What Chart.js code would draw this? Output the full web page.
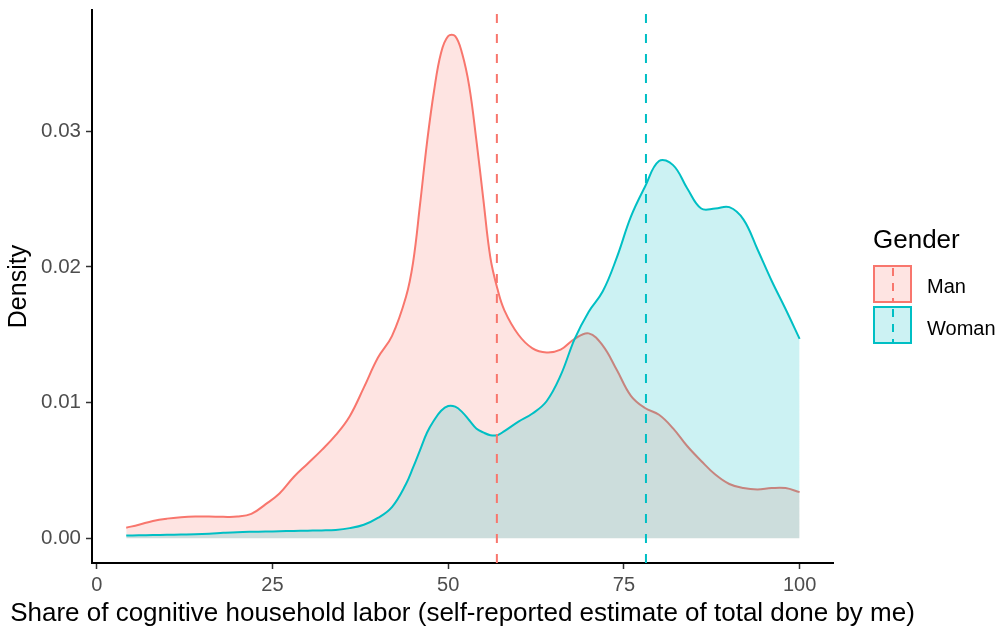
<!DOCTYPE html>
<html>
<head>
<meta charset="utf-8">
<script src="https://cdn.jsdelivr.net/npm/chart.js@4.4.1/dist/chart.umd.min.js"></script>
<style>
html,body{margin:0;padding:0;background:#fff;}
#wrap{position:relative;width:1003px;height:630px;overflow:hidden;}
canvas{display:block;}
.lg{position:absolute;font-family:"Liberation Sans",Arial,Helvetica,sans-serif;color:#000;white-space:nowrap;line-height:1;}
.key{position:absolute;left:873px;width:39px;height:38px;box-sizing:border-box;border:2px solid;}
.key .dash{position:absolute;left:50%;margin-left:-1px;top:-2px;bottom:-2px;width:2px;}
#xtitle{position:absolute;left:462.5px;top:599px;transform:translateX(-50%);font-size:26px;}
</style>
</head>
<body>
<div id="wrap">
<canvas id="c" width="1003" height="630"></canvas>
<div class="lg" id="xtitle">Share of cognitive household labor (self-reported estimate of total done by me)</div>
<div class="lg" style="left:873px;top:226px;font-size:26px;">Gender</div>
<div class="key" id="keyMan"><div class="dash"></div></div>
<div class="key" id="keyWoman"><div class="dash"></div></div>
<div class="lg" style="left:927px;top:276px;font-size:20px;">Man</div>
<div class="lg" style="left:927px;top:318px;font-size:20px;">Woman</div>
</div>
<script>
// ---- data ----
const xValues = [4.2, 6, 8, 10, 12, 14, 16, 18, 20, 22, 24, 26, 28, 30, 32, 34, 36, 38, 40, 42,
  44, 45, 46, 47, 48, 49, 50, 51, 52, 53, 54, 55, 56, 57, 58,
  60, 62, 64, 66, 68, 70, 72, 74, 76, 78, 80, 82, 84, 86, 88, 90, 92, 94, 96, 98, 100];
const manDensity = [0.00078, 0.00100, 0.00128, 0.00145, 0.00155, 0.00160, 0.00160, 0.00158, 0.00160, 0.00180,
  0.00250, 0.00330, 0.00450, 0.00550, 0.00650, 0.00760, 0.00900, 0.01110, 0.01330, 0.01490,
  0.01780, 0.02030, 0.02460, 0.02920, 0.03300, 0.03580, 0.03700, 0.03700, 0.03570, 0.03330, 0.02940, 0.02500, 0.02070, 0.01840, 0.01680,
  0.01500, 0.01400, 0.01370, 0.01390, 0.01470, 0.01510, 0.01420, 0.01240, 0.01050, 0.00960, 0.00910,
  0.00810, 0.00680, 0.00570, 0.00470, 0.00400, 0.00370, 0.00360, 0.00370, 0.00370, 0.00340];
const womanDensity = [0.00020, 0.00022, 0.00024, 0.00026, 0.00028, 0.00030, 0.00034, 0.00040, 0.00045, 0.00048,
  0.00050, 0.00052, 0.00054, 0.00056, 0.00058, 0.00062, 0.00075, 0.00100, 0.00150, 0.00230,
  0.00400, 0.00520, 0.00650, 0.00780, 0.00870, 0.00940, 0.00975, 0.00970, 0.00930, 0.00870, 0.00810, 0.00780, 0.00760, 0.00760, 0.00790,
  0.00860, 0.00920, 0.01010, 0.01200, 0.01470, 0.01670, 0.01820, 0.02070, 0.02370, 0.02590, 0.02780,
  0.02750, 0.02580, 0.02430, 0.02430, 0.02440, 0.02350, 0.02130, 0.01900, 0.01690, 0.01470];
const groups = ["Man", "Woman"];
const groupMeans = [56.93, 78.14];
const xTicks = [0, 25, 50, 75, 100];
const yTicks = [0, 0.01, 0.02, 0.03];

const lineColors = ["rgb(248,118,109)", "rgb(0,191,196)"];
const fillColors = ["rgba(248,118,109,0.2)", "rgba(0,191,196,0.2)"];

// legend keys
["keyMan", "keyWoman"].forEach((id, i) => {
  const k = document.getElementById(id);
  k.style.top = (i === 0 ? 265 : 306) + "px";
  k.style.borderColor = lineColors[i];
  k.style.background = fillColors[i];
  k.firstChild.style.background =
    "repeating-linear-gradient(to bottom, transparent 0 3px, " + lineColors[i] + " 3px 11px, transparent 11px 15px)";
});

Chart.defaults.font.family = '"Liberation Sans", Arial, Helvetica, sans-serif';

const meanLines = {
  id: "meanLines",
  afterDatasetsDraw(chart) {
    const ctx = chart.ctx, xs = chart.scales.x, a = chart.chartArea;
    ctx.save();
    ctx.lineWidth = 2;
    ctx.setLineDash([9, 11]);
    groupMeans.forEach((m, i) => {
      const px = xs.getPixelForValue(m);
      ctx.strokeStyle = lineColors[i];
      ctx.beginPath();
      ctx.moveTo(px, a.bottom);
      ctx.lineTo(px, a.top);
      ctx.stroke();
    });
    ctx.restore();
  }
};

const mk = (vals) => xValues.map((x, i) => ({ x: x, y: vals[i] }));
const series = [manDensity, womanDensity];

new Chart(document.getElementById("c"), {
  type: "line",
  data: {
    datasets: groups.map((g, i) => ({
      label: g,
      data: mk(series[i]),
      borderColor: lineColors[i],
      backgroundColor: fillColors[i],
      borderWidth: 2,
      fill: "origin",
      pointRadius: 0,
      tension: 0.4,
      order: 1 - i
    }))
  },
  options: {
    responsive: false,
    animation: false,
    devicePixelRatio: 1,
    layout: { padding: { top: 10, right: 170, bottom: 0, left: 0 } },
    plugins: { legend: { display: false }, tooltip: { enabled: false } },
    scales: {
      x: {
        type: "linear",
        min: -0.67,
        max: 104.75,
        afterBuildTicks: (s) => { s.ticks = xTicks.map(v => ({ value: v })); },
        afterFit: (s) => { s.height = 67; s.paddingLeft = 0; s.paddingRight = 0; },
        ticks: { color: "#4D4D4D", font: { size: 20 }, padding: 4, maxRotation: 0, autoSkip: false,
                 callback: (v) => String(v) },
        grid: { display: true, drawOnChartArea: false, drawTicks: true, tickLength: 6, tickWidth: 1.5, tickColor: "#333" },
        border: { display: true, color: "#000", width: 2 },
        title: { display: false }
      },
      y: {
        type: "linear",
        min: -0.00182,
        max: 0.03893,
        afterBuildTicks: (s) => { s.ticks = yTicks.map(v => ({ value: v })); },
        afterFit: (s) => { s.width = 92; s.paddingTop = 0; s.paddingBottom = 0; },
        ticks: { color: "#4D4D4D", font: { size: 20.5 }, padding: 5, autoSkip: false,
                 callback: (v) => v.toFixed(2) },
        grid: { display: true, drawOnChartArea: false, drawTicks: true, tickLength: 6, tickWidth: 1.5, tickColor: "#333" },
        border: { display: true, color: "#000", width: 2 },
        title: { display: true, text: "Density", color: "#000", font: { size: 25 }, padding: { top: 4, bottom: 0 } }
      }
    }
  },
  plugins: [meanLines]
});
</script>
</body>
</html>
